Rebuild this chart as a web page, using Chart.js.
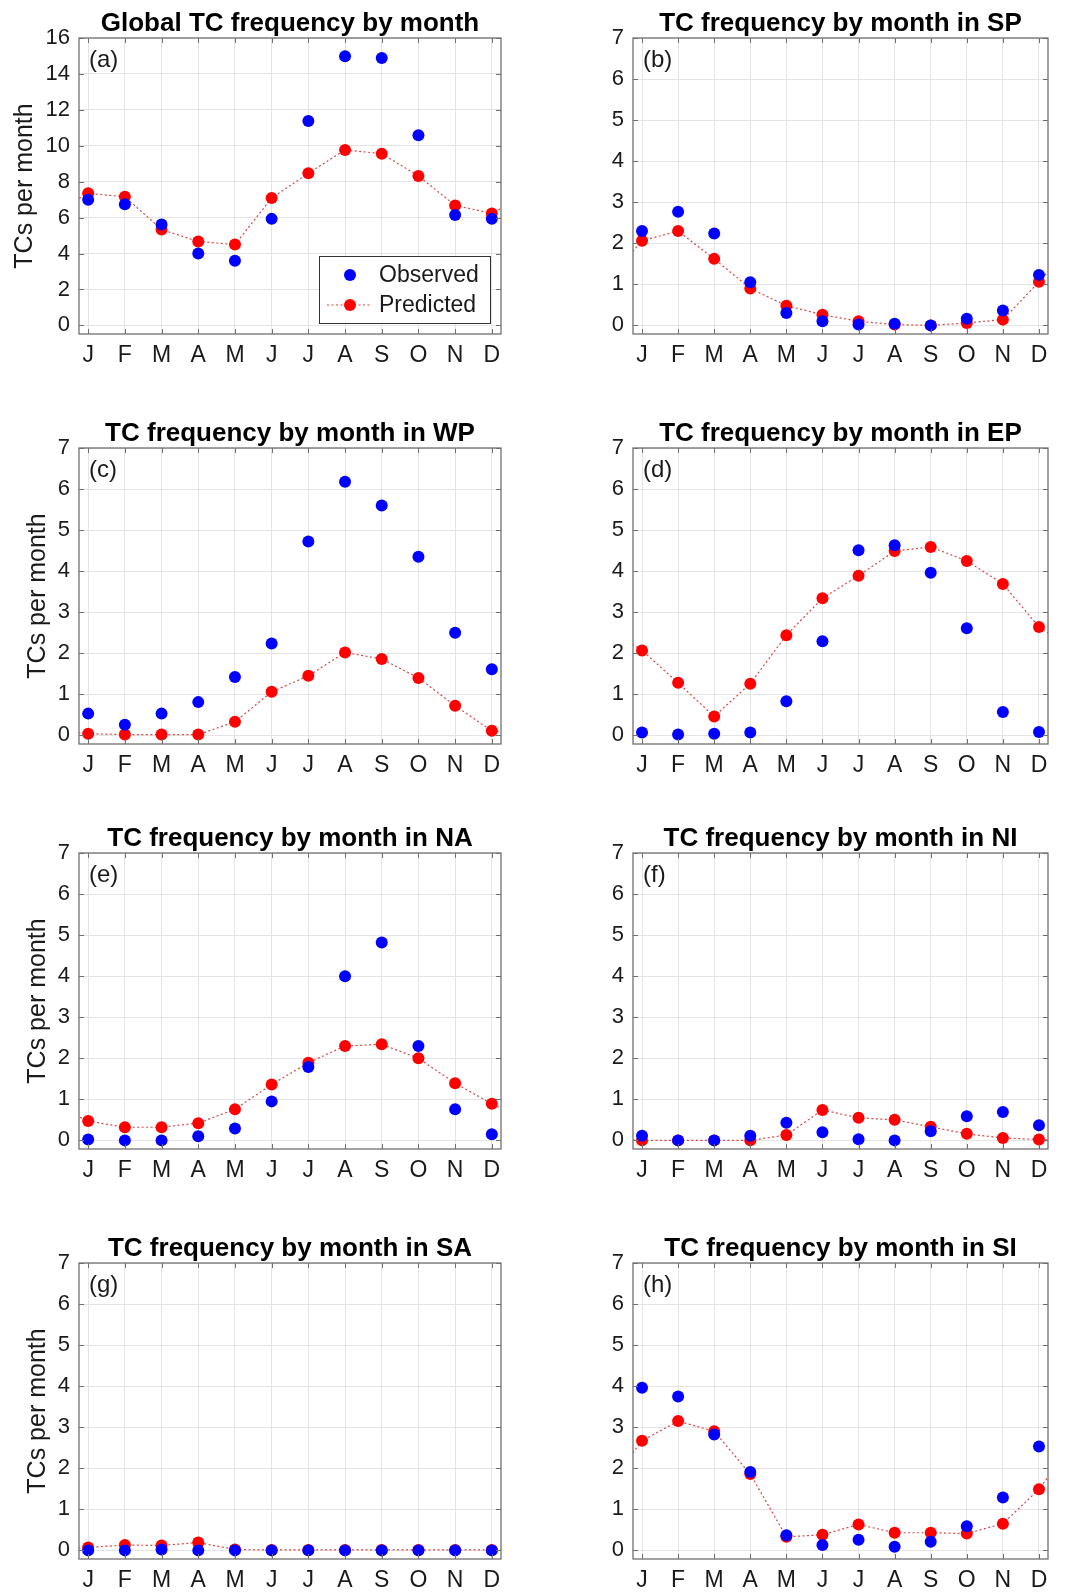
<!DOCTYPE html>
<html>
<head>
<meta charset="utf-8">
<title>TC frequency by month</title>
<script src="https://cdn.jsdelivr.net/npm/chart.js@4.4.1/dist/chart.umd.min.js"></script>
<style>
    html, body { margin: 0; padding: 0; background: #fff; overflow: hidden; }
    #wrap { position: relative; width: 1071px; height: 1593px; }
    #wrap canvas { position: absolute; }
</style>
</head>
<body>
<div id="wrap"></div>
<script>
// Month tick labels
const MONTHS = ['J', 'F', 'M', 'A', 'M', 'J', 'J', 'A', 'S', 'O', 'N', 'D'];

const PANEL_TITLES = [
    'Global TC frequency by month',
    'TC frequency by month in SP',
    'TC frequency by month in WP',
    'TC frequency by month in EP',
    'TC frequency by month in NA',
    'TC frequency by month in NI',
    'TC frequency by month in SA',
    'TC frequency by month in SI'
];
const PANEL_TAGS = ['(a)', '(b)', '(c)', '(d)', '(e)', '(f)', '(g)', '(h)'];
const Y_MAX = [16, 7, 7, 7, 7, 7, 7, 7];
const Y_STEP = [2, 1, 1, 1, 1, 1, 1, 1];

// Observed / predicted TCs per month, Jan..Dec
const OBS_GLOBAL = [7.0, 6.75, 5.62, 4.0, 3.6, 5.93, 11.38, 14.98, 14.88, 10.59, 6.14, 5.93];
const PRED_GLOBAL = [7.35, 7.16, 5.34, 4.67, 4.5, 7.09, 8.47, 9.77, 9.56, 8.32, 6.68, 6.23];
const OBS_SP = [2.30, 2.77, 2.24, 1.05, 0.30, 0.10, 0.02, 0.04, 0.0, 0.16, 0.36, 1.23];
const PRED_SP = [2.06, 2.30, 1.62, 0.90, 0.48, 0.26, 0.10, 0.02, 0.0, 0.06, 0.14, 1.06];
const OBS_WP = [0.53, 0.26, 0.53, 0.81, 1.42, 2.24, 4.72, 6.18, 5.60, 4.35, 2.50, 1.61];
const PRED_WP = [0.04, 0.02, 0.02, 0.02, 0.33, 1.06, 1.45, 2.02, 1.86, 1.40, 0.72, 0.11];
const OBS_EP = [0.07, 0.02, 0.04, 0.07, 0.83, 2.29, 4.51, 4.63, 3.96, 2.61, 0.57, 0.08];
const PRED_EP = [2.07, 1.28, 0.46, 1.26, 2.44, 3.34, 3.89, 4.49, 4.59, 4.25, 3.69, 2.64];
const OBS_NA = [0.02, 0.0, 0.0, 0.10, 0.29, 0.95, 1.79, 4.0, 4.82, 2.30, 0.76, 0.15];
const PRED_NA = [0.47, 0.32, 0.32, 0.42, 0.76, 1.36, 1.89, 2.30, 2.34, 2.0, 1.39, 0.89];
const OBS_NI = [0.11, 0.0, 0.0, 0.11, 0.43, 0.20, 0.03, 0.0, 0.22, 0.59, 0.69, 0.37];
const PRED_NI = [0.0, 0.0, 0.0, 0.0, 0.13, 0.74, 0.55, 0.50, 0.33, 0.16, 0.06, 0.02];
const OBS_SA = [0.0, 0.0, 0.02, 0.0, 0.0, 0.0, 0.0, 0.0, 0.0, 0.0, 0.0, 0.0];
const PRED_SA = [0.07, 0.13, 0.12, 0.19, 0.02, 0.01, 0.01, 0.01, 0.01, 0.01, 0.01, 0.01];
const OBS_SI = [3.96, 3.75, 2.82, 1.91, 0.37, 0.13, 0.26, 0.09, 0.21, 0.59, 1.29, 2.53];
const PRED_SI = [2.67, 3.15, 2.90, 1.86, 0.33, 0.38, 0.63, 0.43, 0.43, 0.41, 0.65, 1.49];

const OBSERVED = [OBS_GLOBAL, OBS_SP, OBS_WP, OBS_EP, OBS_NA, OBS_NI, OBS_SA, OBS_SI];
const PREDICTED = [PRED_GLOBAL, PRED_SP, PRED_WP, PRED_EP, PRED_NA, PRED_NI, PRED_SA, PRED_SI];

const FONT = '"Liberation Sans", Arial, Helvetica, sans-serif';
const TEXT = '#1a1a1a';
const AXIS = '#707070';

// Layout of the 2 x 4 grid
const COLS = [
    { left: 0, width: 530, plotLeft: 79, plotRight: 501 },
    { left: 535, width: 536, plotLeft: 98, plotRight: 513 }
];
const ROW_TOPS = [0, 410, 815, 1225];
const TOP_PAD = 38;
const PLOT_H = 296;
const BOTTOM_H = 46;

// MATLAB-like box, inward ticks, title, panel tag and legend
const matlabAxes = {
    id: 'matlabAxes',
    afterDraw(chart, args, opts) {
        const { ctx, chartArea: a, scales: { x, y } } = chart;
        ctx.save();

        ctx.strokeStyle = AXIS;
        ctx.lineWidth = 1;
        ctx.beginPath();
        x.ticks.forEach(t => {
            const px = Math.round(x.getPixelForValue(t.value)) + 0.5;
            ctx.moveTo(px, a.bottom); ctx.lineTo(px, a.bottom - 5);
            ctx.moveTo(px, a.top); ctx.lineTo(px, a.top + 5);
        });
        y.ticks.forEach(t => {
            const py = Math.round(y.getPixelForValue(t.value)) + 0.5;
            ctx.moveTo(a.left, py); ctx.lineTo(a.left + 5, py);
            ctx.moveTo(a.right, py); ctx.lineTo(a.right - 5, py);
        });
        ctx.stroke();
        ctx.lineWidth = 1.3;
        ctx.strokeRect(a.left, a.top, a.right - a.left, a.bottom - a.top);

        // title
        ctx.fillStyle = '#000';
        ctx.font = 'bold 26px ' + FONT;
        ctx.textAlign = 'center';
        ctx.textBaseline = 'alphabetic';
        ctx.fillText(opts.title, (a.left + a.right) / 2, a.top - 7);

        // panel tag
        ctx.fillStyle = TEXT;
        ctx.font = '24px ' + FONT;
        ctx.textAlign = 'left';
        ctx.fillText(opts.tag, a.left + 10, a.top + 29);

        if (opts.legend) {
            const w = 171, h = 67;
            const bx = a.right - 11 - w, by = a.bottom - 11 - h;
            ctx.fillStyle = '#fff';
            ctx.fillRect(bx, by, w, h);
            ctx.strokeStyle = '#333';
            ctx.lineWidth = 1;
            ctx.strokeRect(bx + 0.5, by + 0.5, w, h);
            ctx.font = '23px ' + FONT;
            ctx.textBaseline = 'middle';
            chart.data.datasets.forEach((ds, i) => {
                const ly = by + 19 + i * 30;
                if (ds.showLine) {
                    ctx.strokeStyle = ds.borderColor;
                    ctx.lineWidth = ds.borderWidth;
                    ctx.setLineDash(ds.borderDash);
                    ctx.beginPath();
                    ctx.moveTo(bx + 8, ly); ctx.lineTo(bx + 53, ly);
                    ctx.stroke();
                    ctx.setLineDash([]);
                }
                ctx.fillStyle = ds.pointBackgroundColor;
                ctx.beginPath();
                ctx.arc(bx + 31, ly, 6, 0, Math.PI * 2);
                ctx.fill();
                ctx.fillStyle = TEXT;
                ctx.fillText(ds.label, bx + 60, ly + 1);
            });
        }
        ctx.restore();
    }
};

function makePanel(i) {
    const col = COLS[i % 2];
    const top = ROW_TOPS[Math.floor(i / 2)];
    const canvas = document.createElement('canvas');
    canvas.width = col.width;
    canvas.height = TOP_PAD + PLOT_H + BOTTOM_H;
    canvas.style.left = col.left + 'px';
    canvas.style.top = top + 'px';
    document.getElementById('wrap').appendChild(canvas);

    const obs = OBSERVED[i];
    const pred = PREDICTED[i];
    const yMax = Y_MAX[i];
    const step = Y_STEP[i];

    // predicted curve wraps around the year at both edges
    const predPts = [{ x: 0, y: pred[11] }]
        .concat(pred.map((v, k) => ({ x: k + 1, y: v })))
        .concat([{ x: 13, y: pred[0] }]);

    new Chart(canvas, {
        type: 'scatter',
        data: {
            datasets: [
                {
                    label: 'Observed',
                    data: obs.map((v, k) => ({ x: k + 1, y: v })),
                    pointBackgroundColor: '#0000ff',
                    pointBorderColor: '#0000ff',
                    pointBorderWidth: 0,
                    pointRadius: 6,
                    showLine: false
                },
                {
                    label: 'Predicted',
                    data: predPts,
                    showLine: true,
                    borderColor: '#d94545',
                    borderWidth: 1.2,
                    borderDash: [2, 2.5],
                    pointBackgroundColor: '#ff0000',
                    pointBorderColor: '#ff0000',
                    pointBorderWidth: 0,
                    pointRadius: c => (c.raw && c.raw.x >= 1 && c.raw.x <= 12 ? 6 : 0)
                }
            ]
        },
        options: {
            responsive: false,
            animation: false,
            events: [],
            layout: { padding: { left: 0, top: TOP_PAD, right: col.width - col.plotRight, bottom: 0 } },
            plugins: {
                legend: { display: false },
                tooltip: { enabled: false },
                matlabAxes: { title: PANEL_TITLES[i], tag: PANEL_TAGS[i], legend: i === 0 }
            },
            scales: {
                x: {
                    type: 'linear',
                    min: 0.75,
                    max: 12.25,
                    afterBuildTicks: s => { s.ticks = MONTHS.map((m, k) => ({ value: k + 1 })); },
                    afterFit: s => { s.height = BOTTOM_H; },
                    grid: { color: '#e4e4e4', drawTicks: false },
                    border: { display: false },
                    ticks: {
                        autoSkip: false,
                        maxRotation: 0,
                        padding: 8,
                        color: TEXT,
                        font: { family: FONT, size: 23 },
                        callback: v => MONTHS[v - 1]
                    }
                },
                y: {
                    min: -0.03 * yMax,
                    max: yMax,
                    afterBuildTicks: s => {
                        const t = [];
                        for (let v = 0; v <= yMax; v += step) t.push({ value: v });
                        s.ticks = t;
                    },
                    afterFit: s => { s.width = col.plotLeft; },
                    grid: { color: '#e4e4e4', drawTicks: false },
                    border: { display: false },
                    ticks: {
                        padding: 9,
                        color: TEXT,
                        font: { family: FONT, size: 22 }
                    },
                    title: {
                        display: i % 2 === 0,
                        text: 'TCs per month',
                        color: TEXT,
                        font: { family: FONT, size: 25 },
                        padding: { top: i === 0 ? 10 : 23, bottom: 0 }
                    }
                }
            }
        },
        plugins: [matlabAxes]
    });
}

for (let i = 0; i < 8; i++) makePanel(i);
</script>
</body>
</html>
